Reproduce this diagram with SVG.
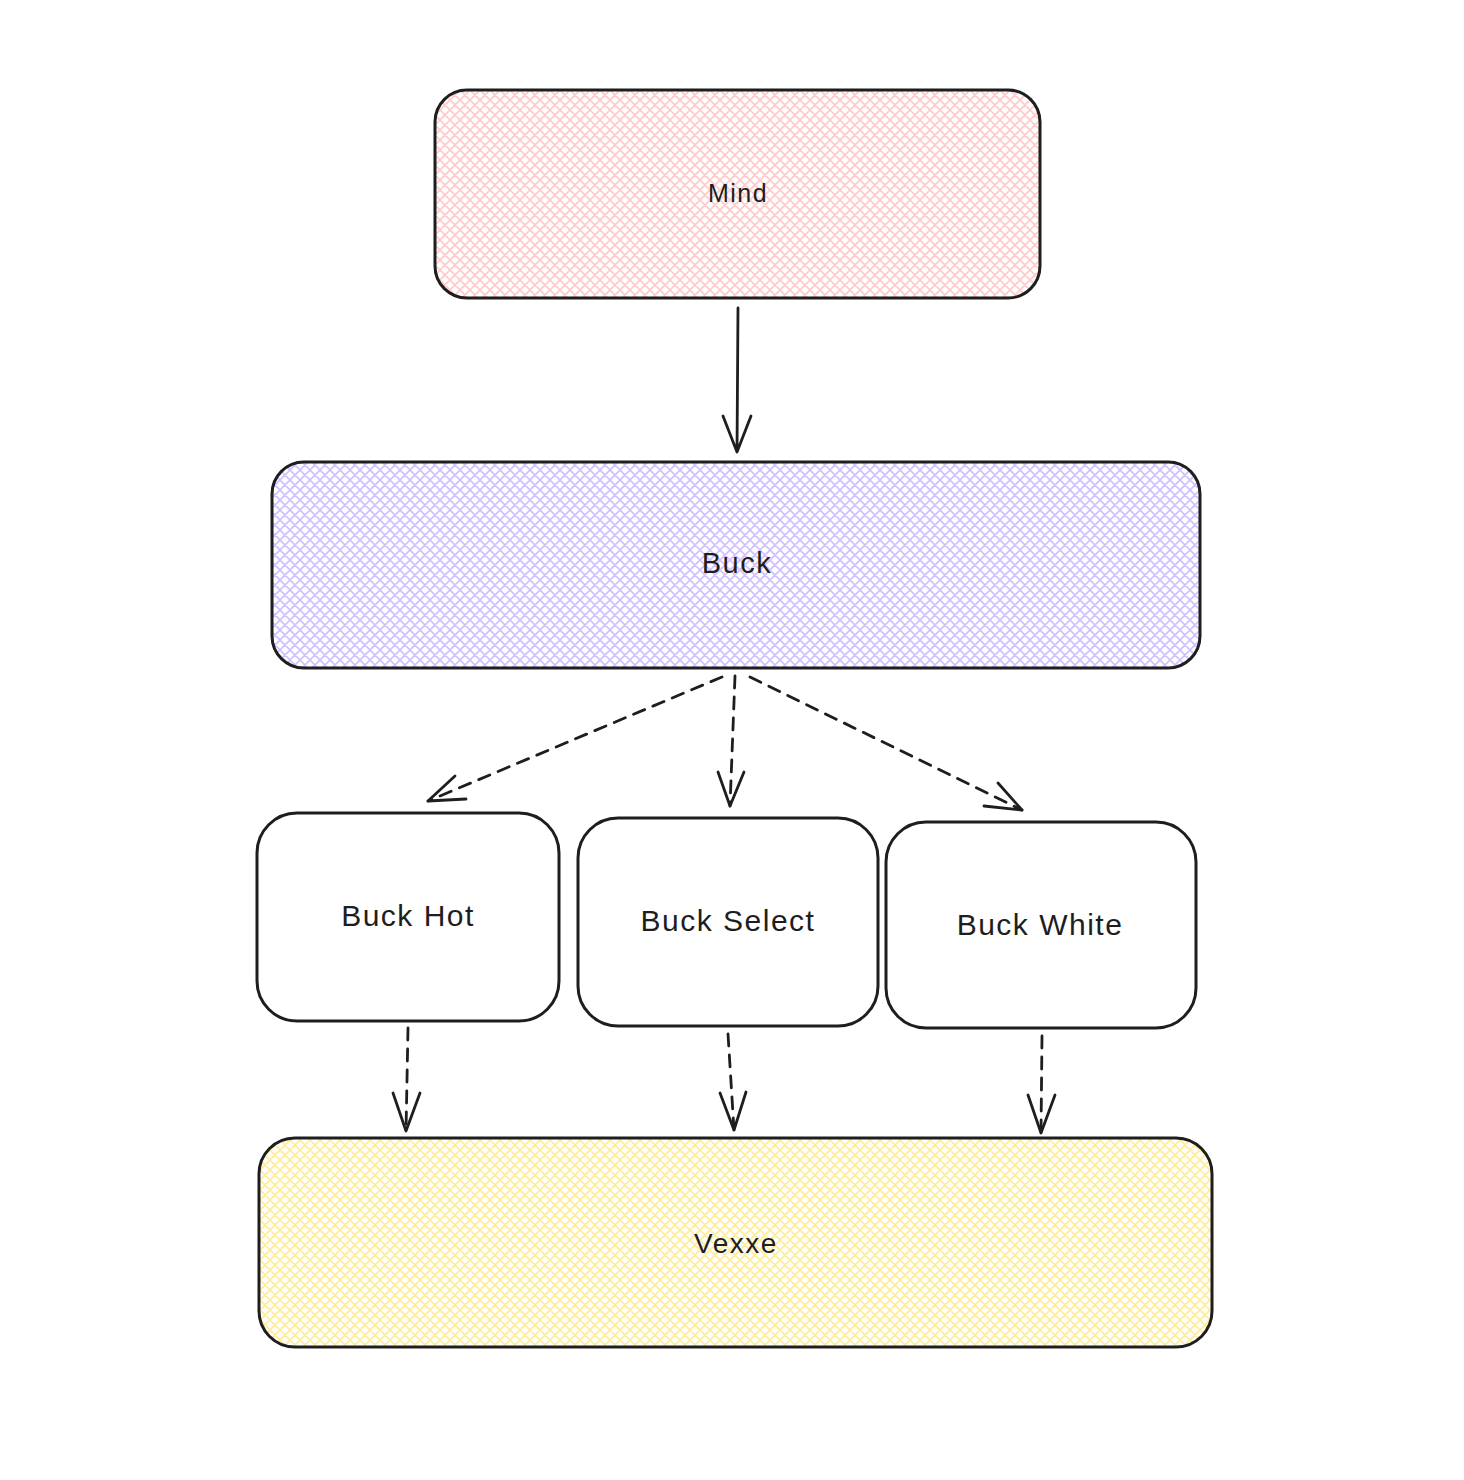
<svg xmlns="http://www.w3.org/2000/svg" width="1464" height="1480" viewBox="0 0 1464 1480">
<style>
.box{stroke:#1e1e1e;stroke-width:3}
.lbl{font-family:"Liberation Sans",Arial,sans-serif;fill:#1e1e1e;text-anchor:middle;dominant-baseline:central;letter-spacing:1.5px}
.edge{fill:none;stroke:#1e1e1e;stroke-width:2.8;stroke-linecap:round;stroke-linejoin:round}
.dash{stroke-dasharray:12 9}
</style>
<defs>
<pattern id="hPink" width="10" height="10" patternUnits="userSpaceOnUse">
<path d="M-1,1 L1,-1 M0,10 L10,0 M9,11 L11,9 M-1,9 L1,11 M0,0 L10,10 M9,-1 L11,1" stroke="#ffc9c9" stroke-width="1.6"/>
</pattern>
<pattern id="hPurple" width="10" height="10" patternUnits="userSpaceOnUse">
<path d="M-1,1 L1,-1 M0,10 L10,0 M9,11 L11,9 M-1,9 L1,11 M0,0 L10,10 M9,-1 L11,1" stroke="#d0bfff" stroke-width="1.6"/>
</pattern>
<pattern id="hYellow" width="10" height="10" patternUnits="userSpaceOnUse">
<path d="M-1,1 L1,-1 M0,10 L10,0 M9,11 L11,9 M-1,9 L1,11 M0,0 L10,10 M9,-1 L11,1" stroke="#ffec99" stroke-width="1.6"/>
</pattern>
</defs>
<rect width="1464" height="1480" fill="#ffffff"/>
<g id="mind">
<rect class="box" x="435" y="90" width="605" height="208" rx="32" fill="url(#hPink)"/>
<text class="lbl" x="738" y="193" font-size="25">Mind</text>
</g>
<g id="buck">
<rect class="box" x="272" y="462" width="928" height="206" rx="32" fill="url(#hPurple)"/>
<text class="lbl" x="737" y="563" font-size="29">Buck</text>
</g>
<g id="buck-hot">
<rect class="box" x="257" y="813" width="302" height="208" rx="40" fill="#ffffff"/>
<text class="lbl" x="408" y="915" font-size="30">Buck Hot</text>
</g>
<g id="buck-select">
<rect class="box" x="578" y="818" width="300" height="208" rx="40" fill="#ffffff"/>
<text class="lbl" x="728" y="920" font-size="30">Buck Select</text>
</g>
<g id="buck-white">
<rect class="box" x="886" y="822" width="310" height="206" rx="40" fill="#ffffff"/>
<text class="lbl" x="1040" y="924" font-size="30">Buck White</text>
</g>
<g id="vexxe">
<rect class="box" x="259" y="1138" width="953" height="209" rx="36" fill="url(#hYellow)"/>
<text class="lbl" x="736" y="1243" font-size="28">Vexxe</text>
</g>
<g id="connectors">
<path class="edge" d="M738,308 L737,452 M723,416 L737,452 L751,416"/>
<path class="edge dash" d="M722,677 L428,801"/>
<path class="edge" d="M455,776 L428,801 L466,799"/>
<path class="edge dash" d="M735,676 L730,806"/>
<path class="edge" d="M718,772 L730,806 L744,772"/>
<path class="edge dash" d="M750,677 L1022,810"/>
<path class="edge" d="M984,806 L1022,810 L998,783"/>
<path class="edge dash" d="M408,1028 L406,1131"/>
<path class="edge" d="M393,1093 L406,1131 L420,1093"/>
<path class="edge dash" d="M728,1034 L734,1130"/>
<path class="edge" d="M720,1093 L734,1130 L746,1092"/>
<path class="edge dash" d="M1042,1036 L1041,1133"/>
<path class="edge" d="M1028,1095 L1041,1133 L1055,1095"/>
</g>
</svg>
